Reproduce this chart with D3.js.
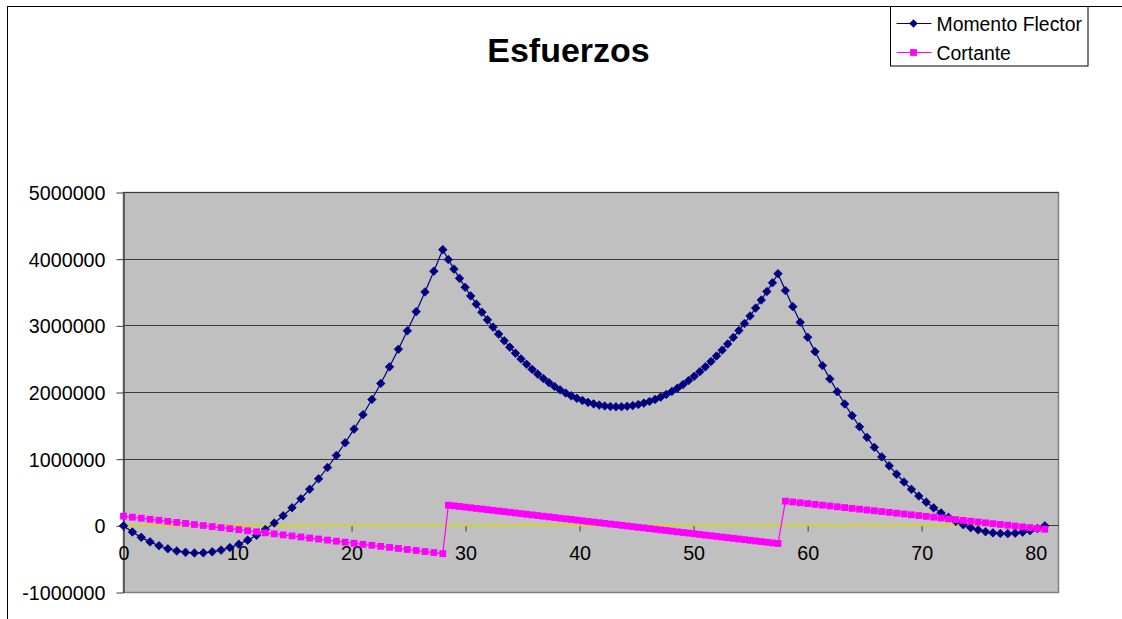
<!DOCTYPE html>
<html>
<head>
<meta charset="utf-8">
<script src="https://cdn.jsdelivr.net/npm/d3@7"></script>
<style>
  html, body { margin: 0; padding: 0; background: #ffffff; }
  svg { display: block; font-family: "Liberation Sans", Arial, sans-serif; }
</style>
</head>
<body>
<svg id="chart" width="1122" height="619"></svg>
<script>
// ---- data ----
const title = "Esfuerzos";
const seriesNames = ["Momento Flector", "Cortante"];

const xValues = [
  0, 0.78, 1.56, 2.33, 3.11, 3.89, 4.67, 5.44, 6.22, 7, 7.78, 8.56, 9.33, 10.11, 10.89, 11.67, 12.44, 13.22, 14, 14.78,
  15.56, 16.33, 17.11, 17.89, 18.67, 19.44, 20.22, 21, 21.78, 22.56, 23.33, 24.11, 24.89, 25.67, 26.44, 27.22, 28,
  28.49, 28.98, 29.47, 29.96, 30.45, 30.94, 31.43, 31.92, 32.41, 32.9, 33.39, 33.88, 34.37, 34.86, 35.35, 35.84, 36.33,
  36.82, 37.31, 37.8, 38.29, 38.78, 39.27, 39.76, 40.25, 40.74, 41.23, 41.72, 42.21, 42.7, 43.19, 43.68, 44.17, 44.66,
  45.15, 45.64, 46.13, 46.62, 47.11, 47.6, 48.09, 48.58, 49.07, 49.56, 50.05, 50.54, 51.03, 51.52, 52.01, 52.5, 52.99,
  53.48, 53.97, 54.46, 54.95, 55.44, 55.93, 56.42, 56.91, 57.4,
  58.05, 58.7, 59.35, 60, 60.65, 61.3, 61.95, 62.6, 63.25, 63.9, 64.55, 65.2, 65.85, 66.5, 67.15, 67.8, 68.45, 69.1,
  69.75, 70.4, 71.05, 71.7, 72.35, 73, 73.65, 74.3, 74.95, 75.6, 76.25, 76.9, 77.55, 78.2, 78.85, 79.5, 80.15, 80.8
];

const momentoFlector = [
  0, -93000, -173000, -241000, -298000, -344000, -377000, -398000, -407000, -405000,
  -390000, -364000, -326000, -276000, -215000, -141000, -56000, 42000, 151000, 272000,
  406000, 549000, 706000, 875000, 1056000, 1246000, 1451000, 1667000, 1895000, 2136000,
  2385000, 2649000, 2925000, 3213000, 3508000, 3820000, 4143000,
  3994000, 3851000, 3712000, 3578000, 3449000, 3325000, 3205000, 3090000, 2981000, 2876000,
  2776000, 2680000, 2590000, 2504000, 2423000, 2347000, 2276000, 2210000, 2148000, 2091000,
  2039000, 1992000, 1950000, 1913000, 1880000, 1852000, 1830000, 1811000, 1798000, 1790000,
  1786000, 1787000, 1793000, 1804000, 1820000, 1841000, 1866000, 1896000, 1931000, 1971000,
  2016000, 2065000, 2120000, 2179000, 2243000, 2312000, 2385000, 2464000, 2547000, 2635000,
  2728000, 2826000, 2929000, 3036000, 3148000, 3266000, 3387000, 3514000, 3646000, 3782000,
  3529000, 3288000, 3054000, 2829000, 2613000, 2404000, 2204000, 2012000, 1828000, 1653000,
  1486000, 1327000, 1177000, 1034000, 900000, 775000, 657000, 548000, 447000, 355000,
  270000, 194000, 127000, 67000, 16000, -27000, -61000, -88000, -106000, -115000,
  -117000, -110000, -95000, -72000, -40000, 0
];

const cortante = [
  145000, 129000, 114000, 98000, 83000, 67000, 51000, 36000, 20000, 5000,
  -11000, -27000, -42000, -58000, -74000, -89000, -105000, -120000, -136000, -152000,
  -167000, -183000, -198000, -214000, -230000, -245000, -261000, -277000, -292000, -308000,
  -323000, -339000, -355000, -370000, -386000, -401000, -417000,
  310000, 300000, 291000, 281000, 271000, 261000, 252000, 242000, 232000, 222000,
  213000, 203000, 193000, 183000, 174000, 164000, 154000, 144000, 135000, 125000,
  115000, 105000, 96000, 86000, 76000, 66000, 57000, 47000, 37000, 27000,
  18000, 8000, -2000, -12000, -22000, -31000, -41000, -51000, -61000, -70000,
  -80000, -90000, -100000, -109000, -119000, -129000, -139000, -148000, -158000, -168000,
  -178000, -187000, -197000, -207000, -217000, -226000, -236000, -246000, -256000, -265000,
  370000, 358000, 346000, 334000, 322000, 310000, 298000, 286000, 274000, 262000,
  250000, 238000, 226000, 214000, 202000, 190000, 178000, 166000, 154000, 142000,
  130000, 117000, 105000, 93000, 81000, 69000, 57000, 45000, 33000, 21000,
  9000, -3000, -15000, -27000, -39000, -51000
];

const yTicks = [-1000000, 0, 1000000, 2000000, 3000000, 4000000, 5000000];
const xTicks = [0, 10, 20, 30, 40, 50, 60, 70, 80];

// ---- layout ----
const svg = d3.select("#chart");
const W = 1122, H = 619;
const plot = { left: 123.5, right: 1058.5, top: 192.5, bottom: 592.5 };
const fontSize = 19.7;
const plainNum = d => String(d);

const x = d3.scaleLinear().domain([0, 82]).range([plot.left, plot.right]);
const y = d3.scaleLinear().domain([-1000000, 5000000]).range([plot.bottom, plot.top]);
const crisp = v => Math.round(v - 0.5) + 0.5;

// chart area background + border
svg.append("rect").attr("x", 0).attr("y", 0).attr("width", W).attr("height", H).attr("fill", "#fff");
svg.append("rect").attr("x", 7.5).attr("y", 6.5).attr("width", W + 20).attr("height", H + 20)
  .attr("fill", "none").attr("stroke", "#000").attr("stroke-width", 1);

// plot area
svg.append("rect")
  .attr("x", plot.left).attr("y", plot.top)
  .attr("width", plot.right - plot.left).attr("height", plot.bottom - plot.top)
  .attr("fill", "#c0c0c0").attr("stroke", "#808080").attr("stroke-width", 1.5);

// gridlines
svg.append("g").selectAll("line")
  .data(yTicks.filter(d => d > -1000000))
  .join("line")
  .attr("x1", plot.left).attr("x2", plot.right)
  .attr("y1", d => crisp(y(d))).attr("y2", d => crisp(y(d)))
  .attr("stroke", "#3a3a3a").attr("stroke-width", 1);

// y axis
const yAxis = d3.axisLeft(y).tickValues(yTicks).tickSize(7).tickSizeOuter(0).tickPadding(11)
  .tickFormat(plainNum);
const gy = svg.append("g").attr("transform", `translate(${plot.left},0)`).call(yAxis);
gy.select(".domain").attr("stroke", "#3a3a3a").attr("stroke-width", 1.3);
gy.selectAll(".tick line").attr("stroke", "#3a3a3a");
gy.selectAll(".tick text").attr("font-size", fontSize).attr("fill", "#000")
  .attr("font-family", "'Liberation Sans', Arial, sans-serif").attr("dy", "0.36em");

// x axis (crosses at y = 0)
const y0 = crisp(y(0));
const xAxis = d3.axisBottom(x).tickValues(xTicks).tickSize(6).tickSizeOuter(0).tickPadding(15)
  .tickFormat(plainNum);
const gx = svg.append("g").attr("transform", `translate(0,${y0})`).call(xAxis);
gx.select(".domain").remove();
gx.selectAll(".tick line").attr("stroke", "#3a3a3a");
gx.selectAll(".tick text").attr("font-size", fontSize).attr("fill", "#000")
  .attr("font-family", "'Liberation Sans', Arial, sans-serif");

// zero baseline (yellow) over dark axis line
svg.append("line").attr("x1", plot.left).attr("x2", plot.right).attr("y1", y0).attr("y2", y0)
  .attr("stroke", "#3a3a3a").attr("stroke-width", 1);
svg.append("line").attr("x1", x(0)).attr("x2", x(d3.max(xValues))).attr("y1", y0).attr("y2", y0)
  .attr("stroke", "#d8d800").attr("stroke-width", 1.6);

// series
const momData = xValues.map((xv, i) => [xv, momentoFlector[i]]);
const corData = xValues.map((xv, i) => [xv, cortante[i]]);
const line = d3.line().x(d => x(d[0])).y(d => y(d[1]));

const navy = "#000080", magenta = "#ff00ff";
const diamond = (cx, cy, r) => `M${cx},${cy - r}L${cx + r},${cy}L${cx},${cy + r}L${cx - r},${cy}Z`;

svg.append("path").datum(momData).attr("d", line).attr("fill", "none").attr("stroke", navy).attr("stroke-width", 1.2);
svg.append("g").selectAll("path").data(momData).join("path")
  .attr("d", d => diamond(x(d[0]), y(d[1]), 4.3)).attr("fill", navy).attr("stroke", navy).attr("stroke-width", 0.7);

svg.append("path").datum(corData).attr("d", line).attr("fill", "none").attr("stroke", magenta).attr("stroke-width", 1.2);
const sq = 6.8;
svg.append("g").selectAll("rect").data(corData).join("rect")
  .attr("x", d => x(d[0]) - sq / 2).attr("y", d => y(d[1]) - sq / 2)
  .attr("width", sq).attr("height", sq).attr("fill", magenta);

// title
svg.append("text").attr("x", 568.5).attr("y", 62).attr("text-anchor", "middle")
  .attr("font-size", 34).attr("font-weight", "bold").attr("fill", "#000").text(title);

// legend
const lg = svg.append("g");
lg.append("rect").attr("x", 890.5).attr("y", 6.5).attr("width", 197.5).attr("height", 59.5)
  .attr("fill", "#fff").attr("stroke", "#000").attr("stroke-width", 1);
const legendItems = [
  { name: seriesNames[0], color: navy, y: 23.5, marker: "diamond" },
  { name: seriesNames[1], color: magenta, y: 52.5, marker: "square" }
];
legendItems.forEach(it => {
  lg.append("line").attr("x1", 896.5).attr("x2", 931.5).attr("y1", it.y).attr("y2", it.y)
    .attr("stroke", it.color).attr("stroke-width", 1.2);
  if (it.marker === "diamond") {
    lg.append("path").attr("d", diamond(913.5, it.y, 4.3)).attr("fill", it.color);
  } else {
    lg.append("rect").attr("x", 913.5 - sq / 2).attr("y", it.y - sq / 2).attr("width", sq).attr("height", sq).attr("fill", it.color);
  }
  lg.append("text").attr("x", 936.5).attr("y", it.y + 7).attr("font-size", 19.4).attr("fill", "#000").text(it.name);
});
</script>
</body>
</html>
